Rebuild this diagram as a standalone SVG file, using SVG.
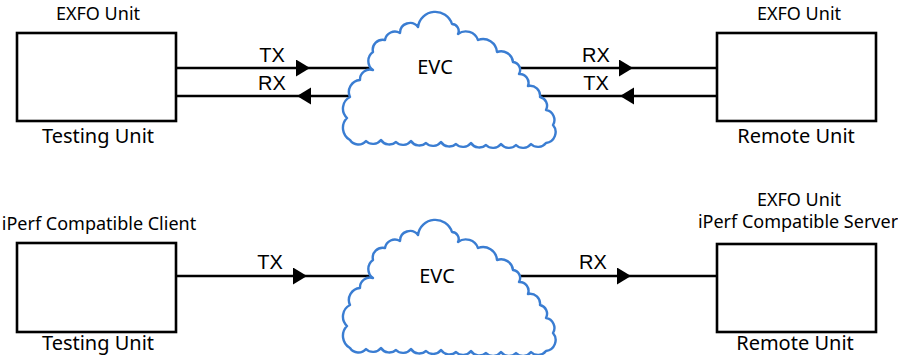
<svg xmlns="http://www.w3.org/2000/svg" xmlns:xlink="http://www.w3.org/1999/xlink" width="898" height="355" viewBox="0 0 898 355">
<style>
.box{fill:#fff;stroke:#000;stroke-width:2.6}
.ln{fill:none;stroke:#000;stroke-width:2.6;marker-mid:url(#ah)}
.cloud{fill:#fff;stroke:#3a7dd2;stroke-width:2.4;stroke-linejoin:round}
.lbl{font-family:"Noto Sans","Open Sans",sans-serif;font-size:18px;fill:#000;text-anchor:middle}
.big{font-size:20px}
.sig{font-family:"Liberation Sans",Arial,sans-serif;font-size:20px;fill:#000;text-anchor:middle}
</style>
<defs>
<marker id="ah" markerUnits="userSpaceOnUse" markerWidth="15" markerHeight="18" refX="14" refY="8.5" orient="auto" viewBox="0 0 15 18">
<path d="M0,0 L14,8.5 L0,17 Z" fill="#000"/>
</marker>
<path id="cloudShape" d="M350,140 A14,14 0 0 1 347,118 A13,13 0 0 1 350,97 A12,12 0 0 1 360,80 A10,10 0 0 1 373,70 A11,11 0 0 1 373,52 A10,10 0 0 1 385,40 A10,10 0 0 1 400,33 A10,10 0 0 1 418,27 A17.5,17.5 0 0 1 452,24 A7,7 0 0 1 458,34 A13,13 0 0 1 478,40 A14,14 0 0 1 497,52 A12,12 0 0 1 513,62 A8,8 0 0 1 519,74 A9,9 0 0 1 528,86 A10,10 0 0 1 540,97 A9,9 0 0 1 546,110 A10,10 0 0 1 553,125 A11,11 0 0 1 546,143 A10,10 0 0 1 531,144 A10,10 0 0 1 516,145 A10,10 0 0 1 501,144 A10,10 0 0 1 486,145 A10,10 0 0 1 471,143 A10,10 0 0 1 456,144 A10,10 0 0 1 441,142 A10,10 0 0 1 426,143 A10,10 0 0 1 411,141 A10,10 0 0 1 396,142 A10,10 0 0 1 381,140 A10,10 0 0 1 366,141 A10,10 0 0 1 350,140 Z"/>
</defs>
<rect width="898" height="355" fill="#fff"/>

<g id="connectors">
<path class="ln" d="M176,68 L310,68 L385,68"/>
<path class="ln" d="M360,96 L297,96 L176,96"/>
<path class="ln" d="M505,68 L633,68 L716,68"/>
<path class="ln" d="M716,96 L620,96 L530,96"/>
<path class="ln" d="M176,276 L307,276 L385,276"/>
<path class="ln" d="M505,276 L631,276 L717,276"/>
</g>

<g id="testing-unit-1">
<rect class="box" x="17" y="33" width="159" height="88"/>
<text class="lbl" x="98" y="20">EXFO Unit</text>
<text class="lbl big" x="98" y="143">Testing Unit</text>
</g>
<g id="evc-1">
<use xlink:href="#cloudShape" class="cloud"/>
<text class="lbl big" x="435" y="74">EVC</text>
</g>
<g id="remote-unit-1">
<rect class="box" x="717" y="33" width="159" height="88"/>
<text class="lbl" x="799" y="20">EXFO Unit</text>
<text class="lbl big" x="796" y="143">Remote Unit</text>
</g>
<g id="signal-labels-1">
<text class="sig" x="272" y="62">TX</text>
<text class="sig" x="272" y="90">RX</text>
<text class="sig" x="596" y="62">RX</text>
<text class="sig" x="596" y="90">TX</text>
</g>

<g id="testing-unit-2">
<rect class="box" x="17" y="243" width="159" height="89"/>
<text class="lbl" x="99" y="230">iPerf Compatible Client</text>
<text class="lbl big" x="98" y="350">Testing Unit</text>
</g>
<g id="evc-2">
<use xlink:href="#cloudShape" class="cloud" transform="translate(0,208)"/>
<text class="lbl big" x="437" y="283">EVC</text>
</g>
<g id="remote-unit-2">
<rect class="box" x="717" y="244" width="159" height="88"/>
<text class="lbl" x="799" y="206">EXFO Unit</text>
<text class="lbl" x="798" y="228">iPerf Compatible Server</text>
<text class="lbl big" x="795" y="350">Remote Unit</text>
</g>
<g id="signal-labels-2">
<text class="sig" x="270" y="269">TX</text>
<text class="sig" x="593" y="269">RX</text>
</g>
</svg>
